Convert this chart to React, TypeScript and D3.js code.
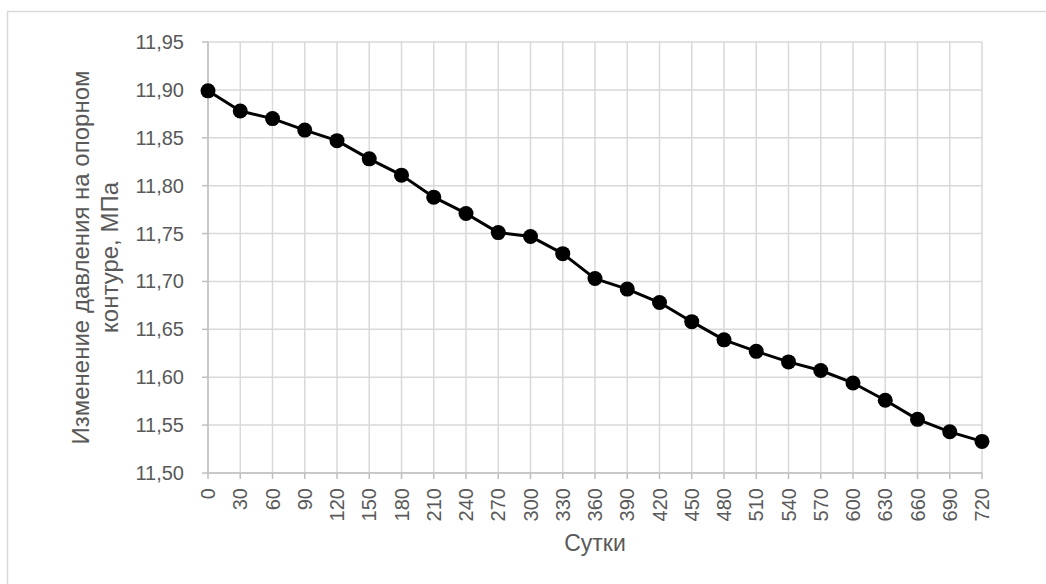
import React from "react";
import * as d3 from "d3";

// Days since start (category axis) and pressure on the reference contour, MPa
const days: string[] = [
  "0", "30", "60", "90", "120", "150", "180", "210", "240", "270", "300", "330", "360",
  "390", "420", "450", "480", "510", "540", "570", "600", "630", "660", "690", "720",
];
const pressure: number[] = [
  11.899, 11.878, 11.870, 11.858, 11.847, 11.828, 11.811, 11.788, 11.771, 11.751, 11.747,
  11.729, 11.703, 11.692, 11.678, 11.658, 11.639, 11.627, 11.616, 11.607, 11.594, 11.576,
  11.556, 11.543, 11.533,
];
const yTicks: number[] = [11.5, 11.55, 11.6, 11.65, 11.7, 11.75, 11.8, 11.85, 11.9, 11.95];

const xTitle = "Сутки";
const yTitleLines = ["Изменение давления на опорном", "контуре, МПа"];

const W = 1046;
const H = 584;
const plot = { left: 208, right: 982, top: 42, bottom: 473 };
const FONT = "'Liberation Sans', Arial, sans-serif";
const GRID = "#d9d9d9";
const AXIS = "#bfbfbf";
const TEXT = "#595959";

export default function App() {
  const x = d3.scalePoint<string>().domain(days).range([plot.left, plot.right]);
  const y = d3.scaleLinear().domain([11.5, 11.95]).range([plot.bottom, plot.top]);
  const fmt = (v: number) => d3.format(".2f")(v).replace(".", ",");

  const line = d3
    .line<number>()
    .x((_, i) => x(days[i]) as number)
    .y((d) => y(d));

  const cy = (plot.top + plot.bottom) / 2;
  const cx = (plot.left + plot.right) / 2;

  return (
    <svg
      width={W}
      height={H}
      style={{ position: "absolute", left: 0, top: 0, background: "#fff" }}
      fontFamily={FONT}
    >
      <rect x={0} y={0} width={W} height={H} fill="#fff" />
      {/* chart frame */}
      <rect x={7.5} y={11.5} width={W + 20} height={H + 20} fill="none" stroke={GRID} strokeWidth={1.5} />

      {/* grid */}
      {yTicks.map((t) => (
        <line key={"gy" + t} x1={plot.left} x2={plot.right} y1={y(t)} y2={y(t)} stroke={GRID} strokeWidth={1.5} />
      ))}
      {days.map((d) => (
        <line key={"gx" + d} x1={x(d)} x2={x(d)} y1={plot.top} y2={plot.bottom} stroke={GRID} strokeWidth={1.5} />
      ))}

      {/* axes */}
      <line x1={plot.left} x2={plot.right} y1={plot.bottom} y2={plot.bottom} stroke={AXIS} strokeWidth={1.5} />
      <line x1={plot.left} x2={plot.left} y1={plot.top} y2={plot.bottom} stroke={AXIS} strokeWidth={1.5} />
      {days.map((d) => (
        <line key={"tx" + d} x1={x(d)} x2={x(d)} y1={plot.bottom} y2={plot.bottom + 6} stroke={AXIS} strokeWidth={1.5} />
      ))}
      {yTicks.map((t) => (
        <line key={"ty" + t} x1={plot.left - 6} x2={plot.left} y1={y(t)} y2={y(t)} stroke={AXIS} strokeWidth={1.5} />
      ))}

      {/* tick labels */}
      {yTicks.map((t) => (
        <text key={"ly" + t} x={184} y={y(t)} dy="0.35em" textAnchor="end" fontSize={20} fill={TEXT}>
          {fmt(t)}
        </text>
      ))}
      {days.map((d) => (
        <text
          key={"lx" + d}
          transform={`translate(${x(d)},${plot.bottom + 15}) rotate(-90)`}
          dy="0.35em"
          textAnchor="end"
          fontSize={20}
          fill={TEXT}
        >
          {d}
        </text>
      ))}

      {/* axis titles */}
      <text x={cx} y={551} textAnchor="middle" fontSize={23} fill={TEXT}>
        {xTitle}
      </text>
      {yTitleLines.map((s, i) => (
        <text
          key={"yt" + i}
          transform={`translate(${89 + i * 29},${cy}) rotate(-90)`}
          textAnchor="middle"
          fontSize={24}
          fill={TEXT}
        >
          {s}
        </text>
      ))}

      {/* series */}
      <path d={line(pressure) || ""} fill="none" stroke="#000" strokeWidth={3} strokeLinejoin="round" />
      {pressure.map((v, i) => (
        <circle key={"pt" + i} cx={x(days[i])} cy={y(v)} r={7.5} fill="#000" />
      ))}
    </svg>
  );
}
